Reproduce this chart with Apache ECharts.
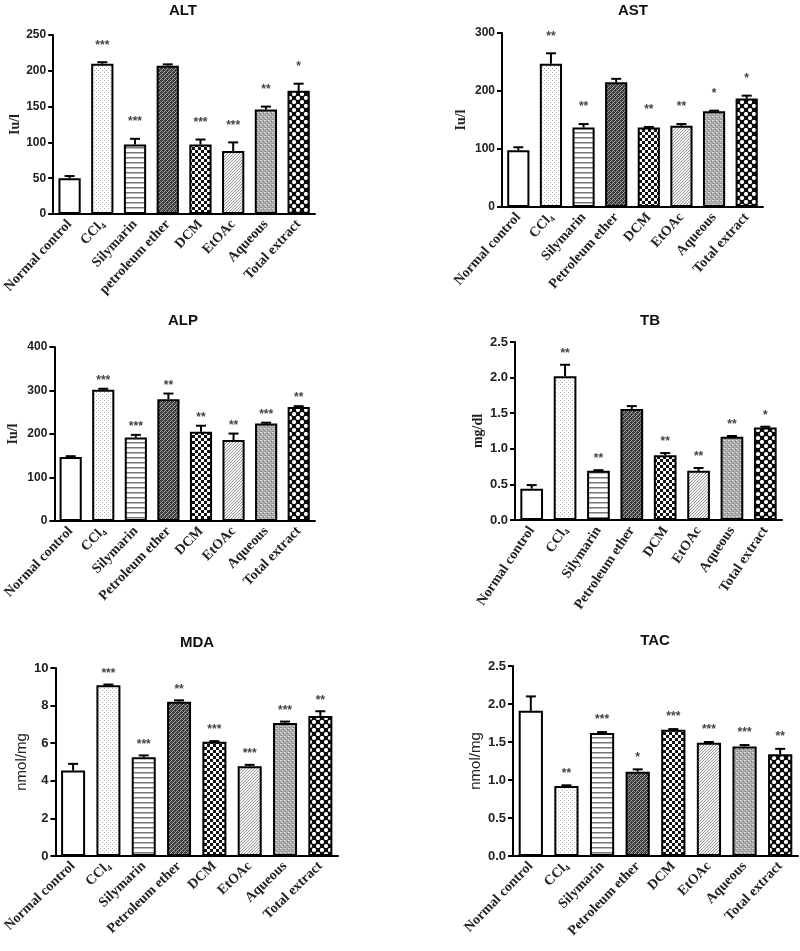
<!DOCTYPE html>
<html><head><meta charset="utf-8">
<script src="https://cdn.jsdelivr.net/npm/echarts@6/dist/echarts.min.js"></script>
<style>html,body{margin:0;padding:0;background:#fff}#c{width:800px;height:951px}</style>
</head><body><div id="c"></div><script>
// ---------- data ----------
const categories = ['Normal control','CCl\u2084','Silymarin','Petroleum ether','DCM','EtOAc','Aqueous','Total extract'];
const categoriesALT = ['Normal control','CCl\u2084','Silymarin','petroleum ether','DCM','EtOAc','Aqueous','Total extract'];

const altMean = [50, 210, 97, 207, 97, 88, 146, 172];
const altErr  = [3, 2, 8, 2, 7, 12, 4, 10];
const altSig  = ['', '***', '***', '', '***', '***', '**', '*'];
const altTicks = [0, 50, 100, 150, 200, 250];

const astMean = [98, 247, 137, 215, 137, 140, 165, 187];
const astErr  = [5, 18, 6, 6, 1, 3, 1, 5];
const astSig  = ['', '**', '**', '', '**', '**', '*', '*'];
const astTicks = [0, 100, 200, 300];

const alpMean = [147, 302, 192, 280, 205, 186, 224, 262];
const alpErr  = [2, 2, 6, 13, 14, 15, 2, 2];
const alpSig  = ['', '***', '***', '**', '**', '**', '***', '**'];
const alpTicks = [0, 100, 200, 300, 400];

const tbMean = [0.44, 2.02, 0.69, 1.56, 0.91, 0.69, 1.17, 1.30];
const tbErr  = [0.05, 0.16, 0.01, 0.04, 0.03, 0.04, 0.01, 0.01];
const tbSig  = ['', '**', '**', '', '**', '**', '**', '*'];
const tbTicks = ['0.0', '0.5', '1.0', '1.5', '2.0', '2.5'];

const mdaMean = [4.55, 9.08, 5.25, 8.2, 6.08, 4.78, 7.08, 7.45];
const mdaErr  = [0.35, 0.04, 0.1, 0.08, 0.03, 0.07, 0.07, 0.25];
const mdaSig  = ['', '***', '***', '**', '***', '***', '***', '**'];
const mdaTicks = [0, 2, 4, 6, 8, 10];

const tacMean = [1.91, 0.92, 1.62, 1.11, 1.66, 1.49, 1.44, 1.34];
const tacErr  = [0.19, 0.01, 0.01, 0.03, 0.01, 0.01, 0.02, 0.07];
const tacSig  = ['', '**', '***', '*', '***', '***', '***', '**'];
const tacTicks = ['0.0', '0.5', '1.0', '1.5', '2.0', '2.5'];

// ---------- patterns ----------
function pat(w, h, draw) {
  const c = document.createElement('canvas');
  c.width = w; c.height = h;
  const ctx = c.getContext('2d');
  draw(ctx);
  return { image: c, repeat: 'repeat' };
}
function px(ctx, col, pts) { ctx.fillStyle = col; pts.forEach(p => ctx.fillRect(p[0], p[1], p[2] || 1, p[3] || 1)); }
const patterns = [
  '#ffffff',
  pat(4, 4, ctx => { ctx.fillStyle = '#fff'; ctx.fillRect(0,0,4,4); px(ctx, '#b0b0b0', [[0,0],[2,2]]); }),
  pat(2, 5, ctx => { ctx.fillStyle = '#fff'; ctx.fillRect(0,0,2,5); px(ctx, '#777', [[0,2,2,1]]); px(ctx, '#bbb', [[0,3,2,1]]); }),
  pat(4, 4, ctx => { ctx.fillStyle = '#3a3a3a'; ctx.fillRect(0,0,4,4); px(ctx, '#aaa', [[0,3],[1,2],[2,1],[3,0]]); px(ctx, '#777', [[0,1],[2,3]]); }),
  pat(6, 6, ctx => { ctx.fillStyle = '#111'; ctx.fillRect(0,0,6,6); px(ctx, '#fff', [[0,0,3,3],[3,3,3,3]]); }),
  pat(3, 3, ctx => { ctx.fillStyle = '#f4f4f4'; ctx.fillRect(0,0,3,3); px(ctx, '#9a9a9a', [[0,2],[1,1],[2,0]]); }),
  pat(4, 4, ctx => { ctx.fillStyle = '#a8a8a8'; ctx.fillRect(0,0,4,4); px(ctx, '#dcdcdc', [[0,0],[2,2],[1,0]]); px(ctx, '#808080', [[3,1],[1,3]]); }),
  pat(8, 8, ctx => { ctx.fillStyle = '#0a0a0a'; ctx.fillRect(0,0,8,8); ctx.fillStyle = '#fff';
    [[2,2],[6,6]].forEach(p => { ctx.beginPath(); ctx.arc(p[0], p[1], 2.1, 0, Math.PI*2); ctx.fill(); }); })
];

// ---------- layout ----------
const panels = [
  { title:'ALT', cx:183, ty:3,   cats:categoriesALT, mean:altMean, err:altErr, sig:altSig, ticks:altTicks, name:'Iu/l',  serifName:true,  grid:{left:49, top:35, width:266, height:179}, nameGap:28, starGap:20, rot:47, tickFont:12 },
  { title:'AST', cx:633, ty:3,   cats:categories,    mean:astMean, err:astErr, sig:astSig, ticks:astTicks, name:'Iu/l',  serifName:true,  grid:{left:502, top:33, width:261, height:174}, nameGap:34, starGap:20, rot:48, tickFont:12 },
  { title:'ALP', cx:183, ty:313, cats:categories,    mean:alpMean, err:alpErr, sig:alpSig, ticks:alpTicks, name:'Iu/l',  serifName:true,  grid:{left:50, top:347, width:265, height:174}, nameGap:34, starGap:11, rot:46, tickFont:12 },
  { title:'TB',  cx:650, ty:313, cats:categories,    mean:tbMean,  err:tbErr,  sig:tbSig,  ticks:tbTicks,  name:'mg/dl', serifName:true,  grid:{left:515, top:342, width:267, height:178}, nameGap:30, starGap:14, rot:56, tickFont:13 },
  { title:'MDA', cx:197, ty:635, cats:categories,    mean:mdaMean, err:mdaErr, sig:mdaSig, ticks:mdaTicks, name:'nmol/mg', serifName:false, grid:{left:55, top:668, width:283, height:188}, nameGap:26, starGap:14, rot:44, tickFont:13 },
  { title:'TAC', cx:655, ty:633, cats:categories,    mean:tacMean, err:tacErr, sig:tacSig, ticks:tacTicks, name:'nmol/mg', serifName:false, grid:{left:513, top:666, width:285, height:190}, nameGap:30, starGap:15, rot:46, tickFont:13 }
];

function makeRender(sig, gap) {
  return function (params, api) {
    const i = api.value(0);
    const base = api.coord([i, api.value(1)]);
    const top = api.coord([i, api.value(2)]);
    const cap = 5;
    const children = [
      { type:'line', shape:{ x1:top[0], y1:base[1], x2:top[0], y2:top[1] }, style:{ stroke:'#000', lineWidth:2 } },
      { type:'line', shape:{ x1:top[0]-cap, y1:top[1], x2:top[0]+cap, y2:top[1] }, style:{ stroke:'#000', lineWidth:2 } }
    ];
    const s = sig[params.dataIndex];
    if (s) children.push({ type:'text', x:top[0], y:top[1]-gap+3,
      style:{ text:s, align:'center', verticalAlign:'middle', font:'bold 12px "Liberation Sans", Arial', fill:'#444' } });
    return { type:'group', children };
  };
}

const option = { animation:false, backgroundColor:'#fff', title:[], grid:[], xAxis:[], yAxis:[], series:[] };
panels.forEach((p, k) => {
  const tmax = Number(p.ticks[p.ticks.length-1]);
  const tint = Number(p.ticks[1]) - Number(p.ticks[0]);
  const dec = String(p.ticks[1]).includes('.') ? 1 : 0;
  option.title.push({ text:p.title, left:p.cx-5, top:p.ty-5, textAlign:'center',
    textStyle:{ fontFamily:'"Liberation Sans", Arial', fontWeight:'bold', fontSize:15, color:'#111' } });
  option.grid.push(Object.assign({ containLabel:false }, p.grid));
  option.xAxis.push({ type:'category', gridIndex:k, data:p.cats, boundaryGap:true,
    axisLine:{ lineStyle:{ color:'#000', width:2 } },
    axisTick:{ alignWithLabel:true, length:5, lineStyle:{ color:'#000', width:2 } },
    axisLabel:{ rotate:p.rot, interval:0, margin:8, color:'#222', fontFamily:'"Liberation Serif", "Times New Roman", serif', fontWeight:'bold', fontSize:14 } });
  option.yAxis.push({ type:'value', gridIndex:k, min:0, max:tmax, interval:tint,
    name:p.name, nameLocation:'middle', nameRotate:90, nameGap:p.nameGap,
    nameTextStyle: p.serifName
      ? { fontFamily:'"Liberation Serif", "Times New Roman", serif', fontWeight:'bold', fontSize:14, color:'#222' }
      : { fontFamily:'"Liberation Sans", Arial', fontWeight:'normal', fontSize:15, color:'#222' },
    axisLine:{ show:true, lineStyle:{ color:'#000', width:2 } },
    axisTick:{ show:true, length:5, lineStyle:{ color:'#000', width:2 } },
    splitLine:{ show:false },
    axisLabel:{ margin:7, color:'#222', fontFamily:'"Liberation Sans", Arial', fontWeight:'bold', fontSize:p.tickFont,
      formatter: v => v.toFixed(dec) } });
  option.series.push({ type:'bar', xAxisIndex:k, yAxisIndex:k, barWidth:'68%',
    data: p.mean.map((v, i) => ({ value:v, itemStyle:{ color:patterns[i], borderColor:'#000', borderWidth:2 } })) });
  option.series.push({ type:'custom', xAxisIndex:k, yAxisIndex:k, renderItem:makeRender(p.sig, p.starGap),
    encode:{ x:0, y:[1,2] }, z:5,
    data: p.mean.map((v, i) => [i, v, v + p.err[i]]) });
});

const chart = echarts.init(document.getElementById('c'), null, { renderer:'canvas' });
chart.setOption(option);
</script></body></html>
